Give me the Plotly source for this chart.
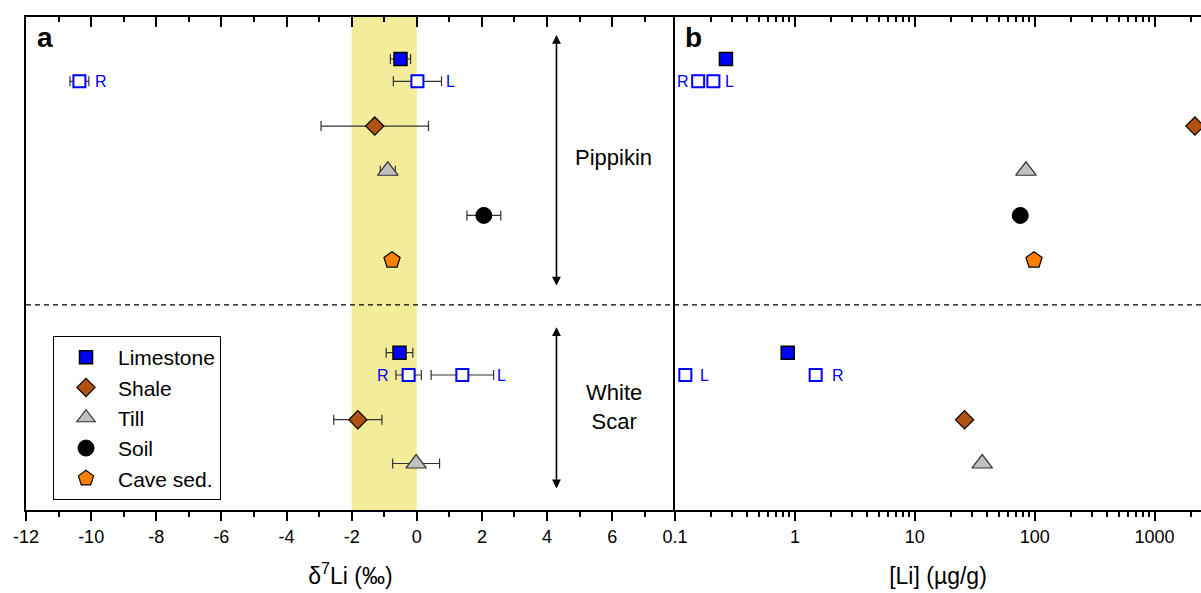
import numpy as np
import plotly.graph_objects as go

# ---------------------------------------------------------------
# Sample rows (vertical slots, top to bottom) for the two cave sites
# ---------------------------------------------------------------
ROW = {
    "pip_lime": 0.0, "pip_lime_rl": 0.5, "pip_shale": 1.5, "pip_till": 2.5,
    "pip_soil": 3.5, "pip_cave": 4.5,
    "ws_lime": 6.57, "ws_lime_rl": 7.07, "ws_shale": 8.07, "ws_till": 9.05,
}
SITE_DIVIDER = 5.5

# Bulk limestone
limestone_rows = ["pip_lime", "ws_lime"]
limestone_d7li = [-0.50, -0.53]
limestone_d7li_err = [0.31, 0.41]
limestone_li = [0.266, 0.871]

# Limestone fractions (R / L)
fraction_rows = ["pip_lime_rl", "pip_lime_rl", "ws_lime_rl", "ws_lime_rl"]
fraction_tags = ["R", "L", "R", "L"]
fraction_d7li = [-10.36, 0.02, -0.25, 1.40]
fraction_d7li_err = [0.29, 0.74, 0.39, 0.96]
fraction_li = [0.156, 0.209, 1.49, 0.122]

# Shale
shale_rows = ["pip_shale", "ws_shale"]
shale_d7li = [-1.29, -1.81]
shale_d7li_err = [1.65, 0.74]
shale_li = [2170, 26.0]

# Till
till_rows = ["pip_till", "ws_till"]
till_d7li = [-0.89, -0.02]
till_d7li_err = [0.23, 0.72]
till_li = [84.6, 36.5]

# Soil
soil_rows = ["pip_soil"]
soil_d7li = [2.06]
soil_d7li_err = [0.52]
soil_li = [75.8]

# Cave sediment
cave_rows = ["pip_cave"]
cave_d7li = [-0.76]
cave_li = [98.7]

# Shaded reference band of δ7Li
band_d7li = [-2.0, 0.0]

d7li_ticks = [-12, -10, -8, -6, -4, -2, 0, 2, 4, 6]
li_ticks = [0.1, 1, 10, 100, 1000]

# ---------------------------------------------------------------
# Styling
# ---------------------------------------------------------------
W, H = 1201, 593
FONT = "Arial, Liberation Sans, sans-serif"
BLUE = "#0000FF"
SHALE_C = "#B05210"
TILL_C = "#C0C0C0"
CAVE_C = "#FF8000"
BAND_C = "#F3EC9B"

xa_dom = [26 / W, 675 / W]
xb_dom = [675 / W, 1.0]
y_dom = [1 - 510 / H, 1 - 17 / H]
y_range = [10.09, -0.94]
xa_range = [-12, 7.93]
xb_range = [-1, 3.387]

# pixel offsets of the R/L tags from their markers (panel a, panel b)
tag_shift_a = [22, 33, -26, 39]
tag_shift_b = [-15, 16, 22, 19]


def rows(keys):
    return [ROW[k] for k in keys]


def err(arr):
    return dict(type="data", array=arr, color="#333333", thickness=1.2, width=5)


fig = go.Figure()

series = [
    # name, rows, d7li, d7li err, [Li], marker, show in legend
    ("Limestone", limestone_rows, limestone_d7li, limestone_d7li_err, limestone_li,
     dict(symbol="square", size=13, color=BLUE, line=dict(color="black", width=1.5)), True),
    ("Limestone R/L", fraction_rows, fraction_d7li, fraction_d7li_err, fraction_li,
     dict(symbol="square", size=12, color="white", line=dict(color=BLUE, width=2)), False),
    ("Shale", shale_rows, shale_d7li, shale_d7li_err, shale_li,
     dict(symbol="diamond", size=14, color=SHALE_C, line=dict(color="black", width=1.2)), True),
    ("Till", till_rows, till_d7li, till_d7li_err, till_li,
     dict(symbol="triangle-up", size=18, color=TILL_C, line=dict(color="#333333", width=1.2)), True),
    ("Soil", soil_rows, soil_d7li, soil_d7li_err, soil_li,
     dict(symbol="circle", size=16, color="black", line=dict(color="black", width=1)), True),
    ("Cave sed.", cave_rows, cave_d7li, None, cave_li,
     dict(symbol="pentagon", size=17, color=CAVE_C, line=dict(color="black", width=1.2)), True),
]

for name, rk, d7, d7e, li, mk, leg in series:
    fig.add_trace(go.Scatter(
        x=d7, y=rows(rk), mode="markers", name=name, legendgroup=name,
        marker=mk, error_x=err(d7e) if d7e is not None else None,
        showlegend=leg, xaxis="x", yaxis="y", hoverinfo="skip",
    ))
    fig.add_trace(go.Scatter(
        x=li, y=rows(rk), mode="markers", name=name, legendgroup=name,
        marker=mk, showlegend=False, xaxis="x2", yaxis="y2", hoverinfo="skip",
    ))

# empty traces so the mirrored top axes are created
fig.add_trace(go.Scatter(x=[None], y=[None], xaxis="x3", yaxis="y", showlegend=False,
                         hoverinfo="skip", mode="markers"))
fig.add_trace(go.Scatter(x=[None], y=[None], xaxis="x4", yaxis="y2", showlegend=False,
                         hoverinfo="skip", mode="markers"))

annotations = []
tag_font = dict(family=FONT, size=16, color=BLUE)
for i, tag in enumerate(fraction_tags):
    yv = ROW[fraction_rows[i]]
    annotations.append(dict(x=fraction_d7li[i], y=yv, xref="x", yref="y", text=tag,
                            showarrow=False, xshift=tag_shift_a[i], font=tag_font))
    annotations.append(dict(x=np.log10(fraction_li[i]), y=yv, xref="x2", yref="y2", text=tag,
                            showarrow=False, xshift=tag_shift_b[i], font=tag_font))

# site brackets (double-headed arrows) and names
arrow_x = 4.29
for y0, y1 in [(-0.537, 5.10), (6.0, 9.64)]:
    annotations.append(dict(x=arrow_x, y=y0, ax=arrow_x, ay=y1, xref="x", yref="y",
                            axref="x", ayref="y", text="", showarrow=True,
                            arrowhead=2, arrowsize=1.1, arrowwidth=1.6, arrowcolor="black",
                            arrowside="end+start", standoff=0, startstandoff=0))
site_font = dict(family=FONT, size=22, color="black")
annotations.append(dict(x=6.05, y=2.21, xref="x", yref="y", text="Pippikin",
                        showarrow=False, font=site_font))
annotations.append(dict(x=6.05, y=7.79, xref="x", yref="y", text="White<br>Scar",
                        showarrow=False, font=site_font))

# panel letters
letter_font = dict(family=FONT, size=28, color="black")
annotations.append(dict(x=-11.43, y=-0.49, xref="x", yref="y", text="<b>a</b>",
                        showarrow=False, font=letter_font))
annotations.append(dict(x=-0.842, y=-0.49, xref="x2", yref="y2", text="<b>b</b>",
                        showarrow=False, font=letter_font))

shapes = [
    dict(type="rect", xref="x", yref="y domain", x0=band_d7li[0], x1=band_d7li[1],
         y0=0, y1=1, fillcolor=BAND_C, line=dict(width=0), layer="below"),
    dict(type="line", xref="paper", yref="y", x0=xa_dom[0], x1=1.0,
         y0=SITE_DIVIDER, y1=SITE_DIVIDER,
         line=dict(color="black", width=1.3, dash="5px,4px")),
]

tickfont = dict(family=FONT, size=18, color="black")
titlefont = dict(family=FONT, size=23, color="black")
axis_common = dict(showgrid=False, zeroline=False, showline=True, linecolor="black",
                   linewidth=2, tickcolor="black", tickwidth=1.5, automargin=False)

fig.update_layout(
    width=W, height=H, margin=dict(l=0, r=0, t=0, b=0, autoexpand=False),
    paper_bgcolor="white", plot_bgcolor="white",
    font=dict(family=FONT, color="black"),
    xaxis=dict(domain=xa_dom, range=xa_range, anchor="y",
               tickmode="array", tickvals=d7li_ticks, ticktext=[str(v) for v in d7li_ticks],
               ticks="outside", ticklen=9, tickfont=tickfont,
               minor=dict(ticks="outside", ticklen=5, dtick=1, tick0=0,
                          tickcolor="black", tickwidth=1.5),
               title=dict(text="δ<sup>7</sup>Li (‰)", font=titlefont, standoff=22),
               **axis_common),
    xaxis3=dict(domain=xa_dom, range=xa_range, anchor="y", overlaying="x", side="top",
                tickmode="array", tickvals=d7li_ticks, showticklabels=False,
                ticks="inside", ticklen=10,
                minor=dict(ticks="inside", ticklen=5, dtick=1, tick0=0,
                           tickcolor="black", tickwidth=1.5),
                **axis_common),
    yaxis=dict(domain=y_dom, range=y_range, anchor="x", showticklabels=False, ticks="",
               **axis_common),
    xaxis2=dict(domain=xb_dom, type="log", range=xb_range, anchor="y2",
                tickmode="array", tickvals=li_ticks, ticktext=[str(v) for v in li_ticks],
                ticks="outside", ticklen=9, tickfont=tickfont,
                minor=dict(ticks="outside", ticklen=5, dtick="D1",
                           tickcolor="black", tickwidth=1.5),
                title=dict(text="[Li] (µg/g)", font=titlefont, standoff=22),
                **axis_common),
    xaxis4=dict(domain=xb_dom, type="log", range=xb_range, anchor="y2", overlaying="x2",
                side="top", tickmode="array", tickvals=li_ticks, showticklabels=False,
                ticks="inside", ticklen=10,
                minor=dict(ticks="inside", ticklen=5, dtick="D1",
                           tickcolor="black", tickwidth=1.5),
                **axis_common),
    yaxis2=dict(domain=y_dom, range=y_range, anchor="x2", showticklabels=False, ticks="",
                **axis_common),
    legend=dict(x=53 / W, y=1 - 336 / H, xanchor="left", yanchor="top",
                bgcolor="white", bordercolor="black", borderwidth=1,
                font=dict(family=FONT, size=21, color="black"),
                itemwidth=54, tracegroupgap=0),
    annotations=annotations,
    shapes=shapes,
)

fig.write_html("out.html")
